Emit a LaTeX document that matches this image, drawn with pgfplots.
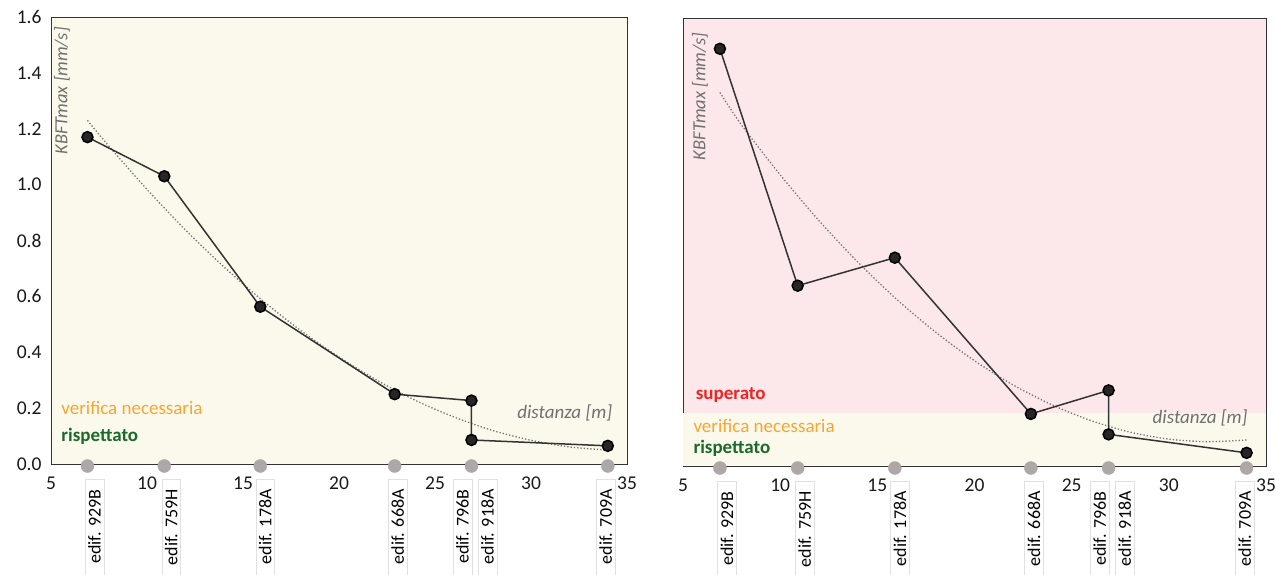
\documentclass[border=0pt]{standalone}
\usepackage{fontspec}
\setmainfont{Carlito}
\usepackage{pgfplots}
\pgfplotsset{compat=1.18}
\definecolor{cream}{HTML}{FAF9EB}
\definecolor{pinkbg}{HTML}{FCE8EA}
\definecolor{orng}{HTML}{F6A631}
\definecolor{dgreen}{HTML}{1B6A2B}
\definecolor{redt}{HTML}{EE2424}
\definecolor{axgrey}{HTML}{707070}
\definecolor{mkgrey}{HTML}{ADA7A8}

\pgfplotstableread{
x y
6.9 1.17
10.9 1.03
15.9 0.563
22.9 0.25
26.9 0.227
26.9 0.086
34 0.065
}\leftdata
\pgfplotstableread{
x y
6.9 1.49
10.9 0.644
15.9 0.744
22.9 0.186
26.9 0.27
26.9 0.113
34 0.047
}\rightdata
\pgfplotstableread{
x y
6.9 1.230
8 1.139
10 0.983
12 0.838
14 0.706
16 0.586
18 0.478
20 0.383
22 0.299
24 0.227
26 0.168
28 0.120
30 0.085
32 0.061
34 0.050
}\lefttrend
\pgfplotstableread{
x y
6.9 1.334
8 1.219
10 1.040
12 0.876
14 0.728
16 0.595
18 0.478
20 0.376
22 0.289
24 0.218
26 0.162
28 0.121
30 0.096
32 0.087
34 0.093
}\righttrend
\pgfplotstableread{
x y
6.9 0
10.9 0
15.9 0
22.9 0
26.9 0
34 0
}\axmarks

\pgfplotsset{common/.style={
  scale only axis, xmin=5, xmax=35, ymin=0, ymax=1.6,
  xtick={5,10,15,20,25,30,35},
  ytick={0,0.2,0.4,0.6,0.8,1.0,1.2,1.4,1.6},
  tick style={draw=none},
  axis line style={draw=black!80, line width=0.9pt},
  tick label style={font=\fontsize{19.5}{22}\selectfont, text=black!90},
  /pgf/number format/assume math mode=true,
  xticklabel style={yshift=-9pt},
  yticklabel style={xshift=-6pt, /pgf/number format/.cd, fixed, fixed zerofill, precision=1},
  clip=false,
}}
\tikzset{
lab/.style={rotate=90, anchor=east, fill=white, draw=black!12, text width=100pt, align=right,
  inner xsep=10pt, inner ysep=3pt, font=\fontsize{18}{20}\selectfont},
note/.style={anchor=west, font=\fontsize{19}{22}\selectfont},
trend/.style={dotted, line width=1.3pt, black!55, smooth},
dat/.style={black!80, line width=1.5pt, mark=*, mark size=5.5pt, mark options={fill=black!85, draw=black}},
axm/.style={only marks, mark=*, mark size=6.5pt, mark options={fill=mkgrey, draw=mkgrey, yshift=-2pt}},
}

\begin{document}
\begin{tikzpicture}
\path[use as bounding box] (0pt,0pt) rectangle (1276pt,574pt);
% left chart
\begin{axis}[common, at={(51pt,110pt)}, anchor=south west, width=576pt, height=447pt,
  axis background/.style={fill=cream}]
\addplot[trend] table[x=x,y=y]{\lefttrend};
\addplot[dat] table[x=x,y=y]{\leftdata};
\addplot[axm] table[x=x,y=y]{\axmarks};
\node[rotate=90, anchor=east, text=axgrey, font=\itshape\fontsize{18.5}{20}\selectfont] at (rel axis cs:0.019,0.985) {KBFTmax [mm/s]};
\node[text=axgrey, font=\itshape\fontsize{19}{22}\selectfont] at (rel axis cs:0.892,0.114) {distanza [m]};
\node[note, text=orng] at (rel axis cs:0.012,0.125) {verifica necessaria};
\node[note, text=dgreen, font=\bfseries\fontsize{19}{22}\selectfont] at (rel axis cs:0.012,0.062) {rispettato};
\node[xshift=7pt, yshift=-15pt, lab] at (axis cs:6.9,0) {edif.\ 929B\hspace*{4pt}};
\node[xshift=7pt, yshift=-15pt, lab] at (axis cs:10.9,0) {edif.\ 759H\hspace*{4pt}};
\node[xshift=5pt, yshift=-15pt, lab] at (axis cs:15.9,0) {edif.\ 178A\hspace*{4pt}};
\node[xshift=3pt, yshift=-15pt, lab] at (axis cs:22.9,0) {edif.\ 668A\hspace*{4pt}};
\node[xshift=-9pt, yshift=-15pt, lab] at (axis cs:26.9,0) {edif.\ 796B\hspace*{4pt}};
\node[xshift=16pt, yshift=-15pt, lab] at (axis cs:26.9,0) {edif.\ 918A\hspace*{4pt}};
\node[xshift=-2pt, yshift=-15pt, lab] at (axis cs:34,0) {edif.\ 709A\hspace*{4pt}};
\end{axis}
% right chart
\begin{axis}[common, at={(683pt,108pt)}, anchor=south west, width=583pt, height=448pt,
  axis background/.style={fill=pinkbg}, yticklabels={}]
\fill[cream] (axis cs:5,0) rectangle (axis cs:35,0.19);
\addplot[trend] table[x=x,y=y]{\righttrend};
\addplot[dat] table[x=x,y=y]{\rightdata};
\addplot[axm] table[x=x,y=y]{\axmarks};
\node[rotate=90, anchor=east, text=axgrey, font=\itshape\fontsize{18.5}{20}\selectfont] at (rel axis cs:0.029,0.975) {KBFTmax [mm/s]};
\node[text=axgrey, font=\itshape\fontsize{19}{22}\selectfont] at (rel axis cs:0.887,0.107) {distanza [m]};
\node[note, text=redt, font=\bfseries\fontsize{19}{22}\selectfont] at (rel axis cs:0.016,0.158) {superato};
\node[note, text=orng] at (rel axis cs:0.012,0.089) {verifica necessaria};
\node[note, text=dgreen, font=\bfseries\fontsize{19}{22}\selectfont] at (rel axis cs:0.012,0.040) {rispettato};
\node[xshift=7pt, yshift=-15pt, lab] at (axis cs:6.9,0) {edif.\ 929B\hspace*{4pt}};
\node[xshift=7pt, yshift=-15pt, lab] at (axis cs:10.9,0) {edif.\ 759H\hspace*{4pt}};
\node[xshift=5pt, yshift=-15pt, lab] at (axis cs:15.9,0) {edif.\ 178A\hspace*{4pt}};
\node[xshift=3pt, yshift=-15pt, lab] at (axis cs:22.9,0) {edif.\ 668A\hspace*{4pt}};
\node[xshift=-9pt, yshift=-15pt, lab] at (axis cs:26.9,0) {edif.\ 796B\hspace*{4pt}};
\node[xshift=16pt, yshift=-15pt, lab] at (axis cs:26.9,0) {edif.\ 918A\hspace*{4pt}};
\node[xshift=-2pt, yshift=-15pt, lab] at (axis cs:34,0) {edif.\ 709A\hspace*{4pt}};
\end{axis}
\end{tikzpicture}
\end{document}
